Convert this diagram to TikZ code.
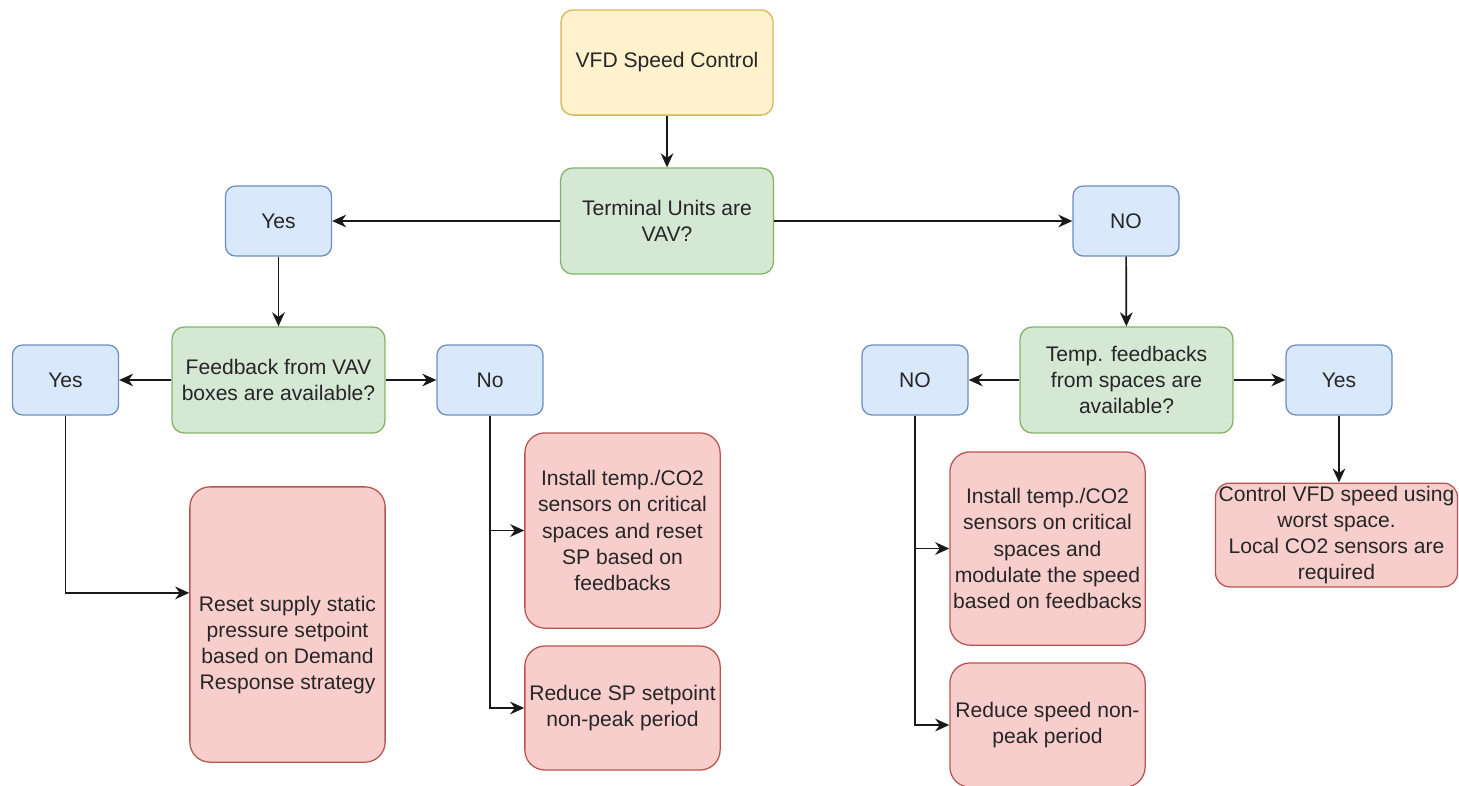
\documentclass[tikz,border=0pt]{standalone}
\usepackage{fontspec}
\setmainfont{Liberation Sans}
\usetikzlibrary{arrows.meta}

\definecolor{startfill}{HTML}{FFF2CC}
\definecolor{startline}{HTML}{D6B656}
\definecolor{askfill}{HTML}{D5E8D4}
\definecolor{askline}{HTML}{82B366}
\definecolor{ansfill}{HTML}{DAE8FC}
\definecolor{ansline}{HTML}{6C8EBF}
\definecolor{actfill}{HTML}{F8CECC}
\definecolor{actline}{HTML}{B85450}

\begin{document}
\begin{tikzpicture}[x=0.025cm, y=-0.025cm,
	box/.style={draw, line width=0.9pt, align=center, text=black!85, inner sep=2pt,
		font=\fontsize{15}{18.6}\selectfont},
	startbox/.style={box, rounded corners=0.3cm, fill=startfill, draw=startline,
		minimum width=5.3cm, minimum height=2.63cm},
	askbox/.style={box, rounded corners=0.3cm, fill=askfill, draw=askline,
		minimum width=5.32cm, minimum height=2.65cm},
	ansbox/.style={box, rounded corners=0.25cm, fill=ansfill, draw=ansline,
		minimum width=2.65cm, minimum height=1.75cm},
	actbox/.style={box, rounded corners=0.5cm, fill=actfill, draw=actline,
		minimum width=4.88cm},
	arr/.style={line width=1.2pt, black!90, -{Stealth[length=10pt, width=9pt]}}]
	%%%%% START %%%%%
	
	\useasboundingbox (0, 0) rectangle (1459, 785);
	
	% top of the tree
	\node[startbox] (vfd) at (667, 62.5) {VFD Speed Control};
	\node[askbox] (tu) at (667, 221) {Terminal Units are\\VAV?};
	\node[ansbox] (yesvav) at (278.5, 221) {Yes};
	\node[ansbox] (novav) at (1126, 221) {NO};
	
	% VAV branch
	\node[askbox] (fbvav) at (278.5, 380) {Feedback from VAV\\boxes are available?};
	\node[ansbox] (yesfb) at (65.5, 380) {Yes};
	\node[ansbox] (nofb) at (490, 380) {No};
	\node[actbox, minimum height=6.88cm] (reset) at (287.5, 624.5)
		{\rule{0pt}{40pt}Reset supply static\\pressure setpoint\\based on Demand\\Response strategy};
	\node[actbox, minimum height=4.88cm] (instsp) at (622.5, 530.5)
		{Install temp./CO2\\sensors on critical\\spaces and reset\\SP based on\\feedbacks};
	\node[actbox, minimum height=3.1cm] (redsp) at (622.5, 708)
		{Reduce SP setpoint\\non-peak period};
	
	% no VAV branch
	\node[askbox] (fbtemp) at (1126.5, 380) {Temp. feedbacks\\from spaces are\\available?};
	\node[ansbox] (notemp) at (915, 380) {NO};
	\node[ansbox] (yestemp) at (1339, 380) {Yes};
	\node[actbox, minimum height=4.83cm] (instspd) at (1047.5, 548.5)
		{Install temp./CO2\\sensors on critical\\spaces and\\modulate the speed\\based on feedbacks};
	\node[actbox, minimum height=3.1cm] (redspd) at (1047.5, 725)
		{Reduce speed non-\\peak period};
	\node[actbox, minimum width=6.05cm, minimum height=2.4cm, rounded corners=0.35cm] (ctrl) at (1336.5, 535)
		{Control VFD speed using\\worst space.\\Local CO2 sensors are\\required};
	
	% connectors
	\draw[arr] (vfd) -- (tu);
	\draw[arr] (tu) -- (yesvav);
	\draw[arr] (tu) -- (novav);
	\draw[arr] (yesvav) -- (fbvav);
	\draw[arr] (novav) -- (fbtemp);
	
	\draw[arr] (fbvav) -- (yesfb);
	\draw[arr] (fbvav) -- (nofb);
	\draw[arr] (yesfb.south) |- ([yshift=0.79cm]reset.west);
	\draw[arr] (nofb.south) |- (instsp.west);
	\draw[arr] (nofb.south) |- (redsp.west);
	
	\draw[arr] (fbtemp) -- (notemp);
	\draw[arr] (fbtemp) -- (yestemp);
	\draw[arr] (notemp.south) |- (instspd.west);
	\draw[arr] (notemp.south) |- (redspd.west);
	\draw[arr] (yestemp.south) -- (yestemp.south |- ctrl.north);
	
	%%%%% END %%%%%
\end{tikzpicture}
\end{document}
